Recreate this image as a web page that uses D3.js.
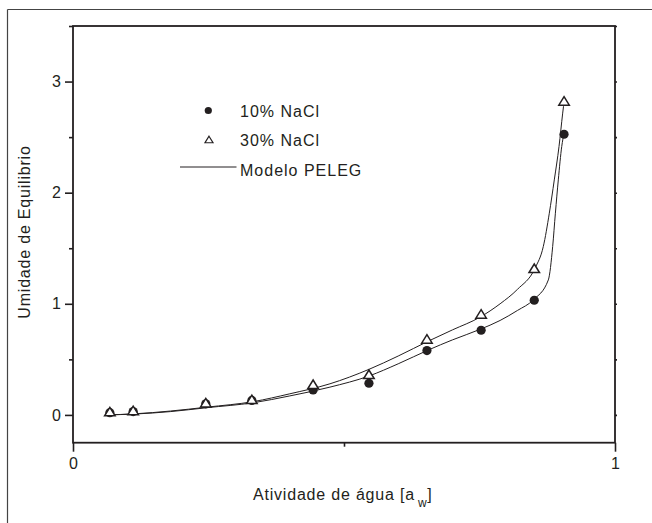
<!DOCTYPE html>
<html>
<head>
<meta charset="utf-8">
<script src="https://cdn.jsdelivr.net/npm/d3@7"></script>
<style>
  html, body { margin: 0; padding: 0; background: #fff; }
  svg { display: block; }
  text { font-family: "Liberation Sans", Arial, sans-serif; fill: #231f20; }
</style>
</head>
<body>
<svg id="chart" width="652" height="523"></svg>
<script>
// Water activity of the measured points
const aw = [0.068, 0.111, 0.245, 0.330, 0.443, 0.546, 0.653, 0.753, 0.851, 0.906];
// Equilibrium moisture, 10% NaCl (filled circles)
const nacl10 = [0.02, 0.03, 0.10, 0.13, 0.225, 0.285, 0.579, 0.762, 1.032, 2.526];
// Equilibrium moisture, 30% NaCl (open triangles)
const nacl30 = [0.03, 0.04, 0.11, 0.14, 0.276, 0.366, 0.684, 0.909, 1.32, 2.826];

// PELEG model curve, 30% NaCl
const peleg30Aw = [0.062, 0.114, 0.18, 0.247, 0.333, 0.40, 0.474, 0.546, 0.60, 0.656, 0.70, 0.751, 0.788, 0.82, 0.8524, 0.8677, 0.8788, 0.888, 0.8967, 0.9035, 0.9065];
const peleg30M  = [0.00, 0.01, 0.035, 0.07, 0.12, 0.19, 0.28, 0.41, 0.53, 0.665, 0.765, 0.88, 1.00, 1.13, 1.32, 1.515, 1.815, 2.115, 2.415, 2.716, 2.835];
// PELEG model curve, 10% NaCl
const peleg10Aw = [0.062, 0.114, 0.18, 0.247, 0.333, 0.40, 0.474, 0.546, 0.60, 0.656, 0.70, 0.751, 0.788, 0.82, 0.8493, 0.877, 0.885, 0.890, 0.8954, 0.9017, 0.906];
const peleg10M  = [0.00, 0.008, 0.03, 0.065, 0.11, 0.171, 0.25, 0.35, 0.46, 0.585, 0.675, 0.77, 0.85, 0.94, 1.035, 1.215, 1.515, 1.815, 2.115, 2.415, 2.535];

// Axis ticks
const xMajor = [0, 1];
const xMinor = [0.5];
const yMajor = [0, 1, 2, 3];
const yMinor = [0.5, 1.5, 2.5, 3.5];

const legendLabels = ["10% NaCl", "30% NaCl", "Modelo PELEG"];
const yTitle = "Umidade de Equilibrio";

const ink = "#231f20";
const svg = d3.select("#chart");

const x = d3.scaleLinear().domain([0, 1]).range([73, 615]);
const y = d3.scaleLinear().domain([-0.25, 3.5]).range([442.7, 26]);

// Outer frame (top and left edges)
svg.append("line").attr("x1", 7.5).attr("x2", 652).attr("y1", 9.5).attr("y2", 9.5)
  .attr("stroke", "#444").attr("stroke-width", 1.2);
svg.append("line").attr("x1", 7.5).attr("x2", 7.5).attr("y1", 9.5).attr("y2", 523)
  .attr("stroke", "#444").attr("stroke-width", 1.2);

// Axes
function styleAxis(g) {
  g.select(".domain").remove();
  g.selectAll(".tick line").attr("stroke", ink).attr("stroke-width", 1.6);
  g.selectAll(".tick text").attr("font-size", 16).attr("fill", ink)
    .style("font-family", '"Liberation Sans", Arial, sans-serif');
}

svg.append("g").attr("transform", `translate(${x(0)},0)`)
  .call(d3.axisLeft(y).tickValues(yMajor).tickSize(8).tickPadding(4).tickFormat(d3.format("d")))
  .call(styleAxis);
svg.append("g").attr("transform", `translate(${x(0)},0)`)
  .call(d3.axisLeft(y).tickValues(yMinor).tickSize(4).tickFormat(""))
  .call(styleAxis);
svg.append("g").attr("transform", `translate(${x(1)},0)`)
  .call(d3.axisRight(y).tickValues(yMajor.concat(yMinor)).tickSize(2).tickFormat(""))
  .call(styleAxis);
svg.append("g").attr("transform", `translate(0,${y(-0.25)})`)
  .call(d3.axisBottom(x).tickValues(xMajor).tickSize(9).tickPadding(6).tickFormat(d3.format("d")))
  .call(styleAxis);
svg.append("g").attr("transform", `translate(0,${y(-0.25)})`)
  .call(d3.axisBottom(x).tickValues(xMinor).tickSize(4).tickFormat(""))
  .call(styleAxis);

// Plot frame
svg.append("rect")
  .attr("x", x(0)).attr("y", y(3.5))
  .attr("width", x(1) - x(0)).attr("height", y(-0.25) - y(3.5))
  .attr("fill", "none").attr("stroke", ink).attr("stroke-width", 1.8);

// Model curves
const line = d3.line().x(d => x(d[0])).y(d => y(d[1])).curve(d3.curveMonotoneX);
[[peleg10Aw, peleg10M], [peleg30Aw, peleg30M]].forEach(([a, m]) => {
  svg.append("path").datum(d3.zip(a, m))
    .attr("d", line).attr("fill", "none").attr("stroke", ink).attr("stroke-width", 1);
});

// Triangle marker path centred on the origin
function tri(w, h) {
  return `M0,${-h / 2}L${w / 2},${h / 2}L${-w / 2},${h / 2}Z`;
}

// 10% NaCl points
svg.append("g").selectAll("circle").data(d3.zip(aw, nacl10)).join("circle")
  .attr("cx", d => x(d[0])).attr("cy", d => y(d[1])).attr("r", 4.6).attr("fill", ink);

// 30% NaCl points
svg.append("g").selectAll("path").data(d3.zip(aw, nacl30)).join("path")
  .attr("transform", d => `translate(${x(d[0])},${y(d[1])})`)
  .attr("d", tri(10.5, 8.5))
  .attr("fill", "#fff").attr("stroke", ink).attr("stroke-width", 1.5).attr("stroke-linejoin", "miter");

// Legend
const lg = svg.append("g");
lg.append("circle").attr("cx", 208.3).attr("cy", 110.5).attr("r", 3.6).attr("fill", ink);
lg.append("path").attr("transform", "translate(209,139.5)").attr("d", tri(8, 6.5))
  .attr("fill", "#fff").attr("stroke", ink).attr("stroke-width", 1.2);
lg.append("line").attr("x1", 180).attr("x2", 236.5).attr("y1", 167).attr("y2", 167)
  .attr("stroke", ink).attr("stroke-width", 1);
[117.3, 146, 176].forEach((by, i) => {
  lg.append("text").attr("x", 240).attr("y", by).attr("font-size", 16)
    .attr("letter-spacing", "1px").text(legendLabels[i]);
});

// Axis titles
svg.append("text")
  .attr("transform", "translate(30,232) rotate(-90)")
  .attr("text-anchor", "middle").attr("font-size", 16).attr("letter-spacing", "0.8px")
  .text(yTitle);

const xt = svg.append("text").attr("x", 253).attr("y", 500).attr("font-size", 16).attr("letter-spacing", "0.8px");
xt.append("tspan").text("Atividade de água [a");
xt.append("tspan").attr("dx", 3).attr("dy", 7).attr("font-size", 12).text("w");
xt.append("tspan").attr("dy", -7).text("]");
</script>
</body>
</html>
